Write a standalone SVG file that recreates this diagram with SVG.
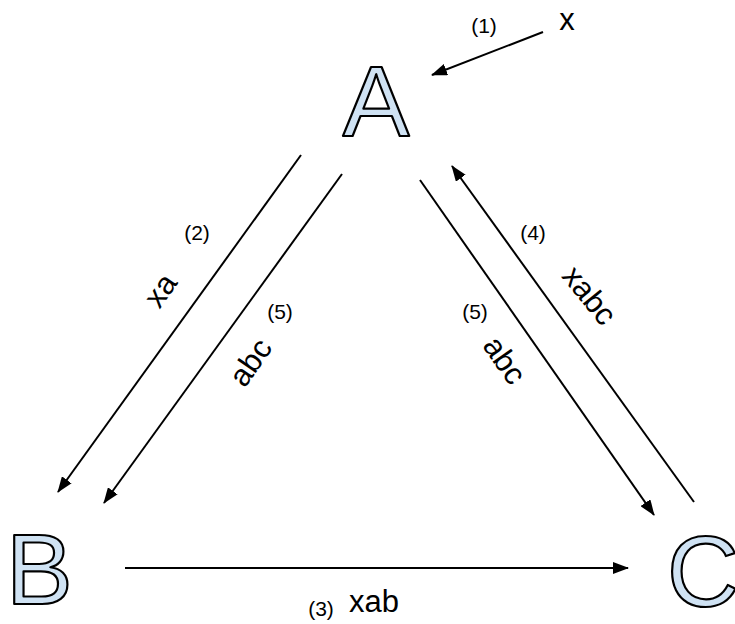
<svg xmlns="http://www.w3.org/2000/svg" width="735" height="624" viewBox="0 0 735 624">
  <style>
    .node { font-family: "Liberation Sans", Arial, sans-serif; font-size: 100px; fill: #cfe2f3; stroke: #000; stroke-width: 2.2; stroke-linejoin: round; }
    .edge { stroke: #000; stroke-width: 2; fill: none; marker-end: url(#arrow); }
    .lbl { font-family: "Liberation Sans", Arial, sans-serif; font-size: 31px; fill: #000; text-anchor: middle; }
    .num { font-family: "Liberation Sans", Arial, sans-serif; font-size: 21px; fill: #000; text-anchor: middle; }
  </style>
  <defs>
    <marker id="arrow" markerUnits="userSpaceOnUse" markerWidth="16" markerHeight="12" viewBox="0 0 16 12" refX="15" refY="6" orient="auto">
      <path d="M0,0 L16,6 L0,12 Z" fill="#000"/>
    </marker>
  </defs>

  <!-- nodes -->
  <g id="node-A"><text class="node" x="376" y="136" text-anchor="middle">A</text></g>
  <g id="node-B"><text class="node" x="6" y="604">B</text></g>
  <g id="node-C"><text class="node" x="667" y="606">C</text></g>

  <!-- connectors -->
  <g id="connectors">
    <line class="edge" x1="543" y1="32" x2="432" y2="75"/>
    <line class="edge" x1="301" y1="155" x2="58" y2="492"/>
    <line class="edge" x1="342" y1="174" x2="104" y2="503"/>
    <line class="edge" x1="125" y1="568" x2="628" y2="568"/>
    <line class="edge" x1="694" y1="502" x2="452" y2="166"/>
    <line class="edge" x1="420" y1="180" x2="654" y2="515"/>
  </g>

  <!-- labels -->
  <g id="labels">
    <text class="lbl" x="567" y="30">x</text>
    <text class="num" x="484" y="33">(1)</text>
    <text class="num" x="197" y="240">(2)</text>
    <text class="lbl" transform="translate(160,290) rotate(-55)" y="11">xa</text>
    <text class="num" x="280" y="319">(5)</text>
    <text class="lbl" transform="translate(250,362) rotate(-55)" y="11">abc</text>
    <text class="num" x="533" y="240">(4)</text>
    <text class="lbl" transform="translate(590,295) rotate(51)" y="11">xabc</text>
    <text class="num" x="475" y="319">(5)</text>
    <text class="lbl" transform="translate(505,360) rotate(55)" y="11">abc</text>
    <text class="num" x="321" y="616">(3)</text>
    <text class="lbl" x="374" y="612">xab</text>
  </g>
</svg>
